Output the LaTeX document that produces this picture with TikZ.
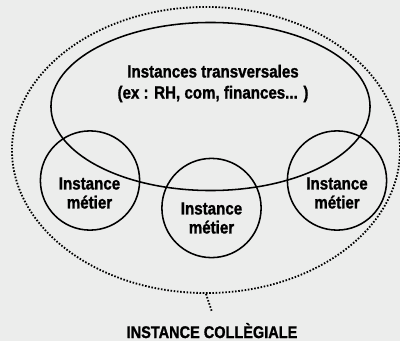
\documentclass[tikz,border=0pt]{standalone}
\usepackage{fontspec}
\newfontfamily\etroite{Liberation Sans Bold}[FakeStretch=0.86,FakeBold=1.2]
\usetikzlibrary{shapes.geometric,positioning}
\definecolor{fondgris}{HTML}{ECEDEC}

\begin{document}
\begin{tikzpicture}[x=0.025cm,y=-0.025cm,font=\etroite\fontsize{12.5}{13.5}\selectfont,inner sep=0pt,
  trait/.style={draw=black,line width=1.1pt},
  pointille/.style={draw=black,line width=1.3pt,dash pattern=on 1.1pt off 1.2pt},
  metier/.style={trait,circle,minimum size=2.48cm}]
\fill[fondgris] (0,0) rectangle (400,341);
\useasboundingbox (0,0) rectangle (400,341);
\node[pointille,ellipse,minimum width=9.7cm,minimum height=7.15cm] (college) at (206.000,150.000) {};
\node[trait,ellipse,minimum width=7.975cm,minimum height=4.2cm] (transv) at (210.500,106.500) {};
\node[metier] (metierG) at (90.000,180.500) {};
\node[metier] (metierM) at (211.500,208.000) {};
\node[metier] (metierD) at (337.000,180.500) {};
\node[align=center,font=\etroite\fontsize{12.5}{15}\selectfont] (txtTransv) at (213.000,83.500) {Instances transversales\\(ex : RH, com, finances... )};
\node[align=center] (txtG) at (89.500,193.000) {Instance\\métier};
\node[align=center] (txtM) at (211.500,218.000) {Instance\\métier};
\node[align=center] (txtD) at (337.000,193.000) {Instance\\métier};
\node[anchor=base,font=\etroite\fontsize{12}{13}\selectfont] (txtCollege) at (212.000,338.000) {INSTANCE COLLÈGIALE};
\coordinate (finLien) at (212.000,312.000);
\draw[pointille] (college.south) -- (finLien);
\end{tikzpicture}
\end{document}
